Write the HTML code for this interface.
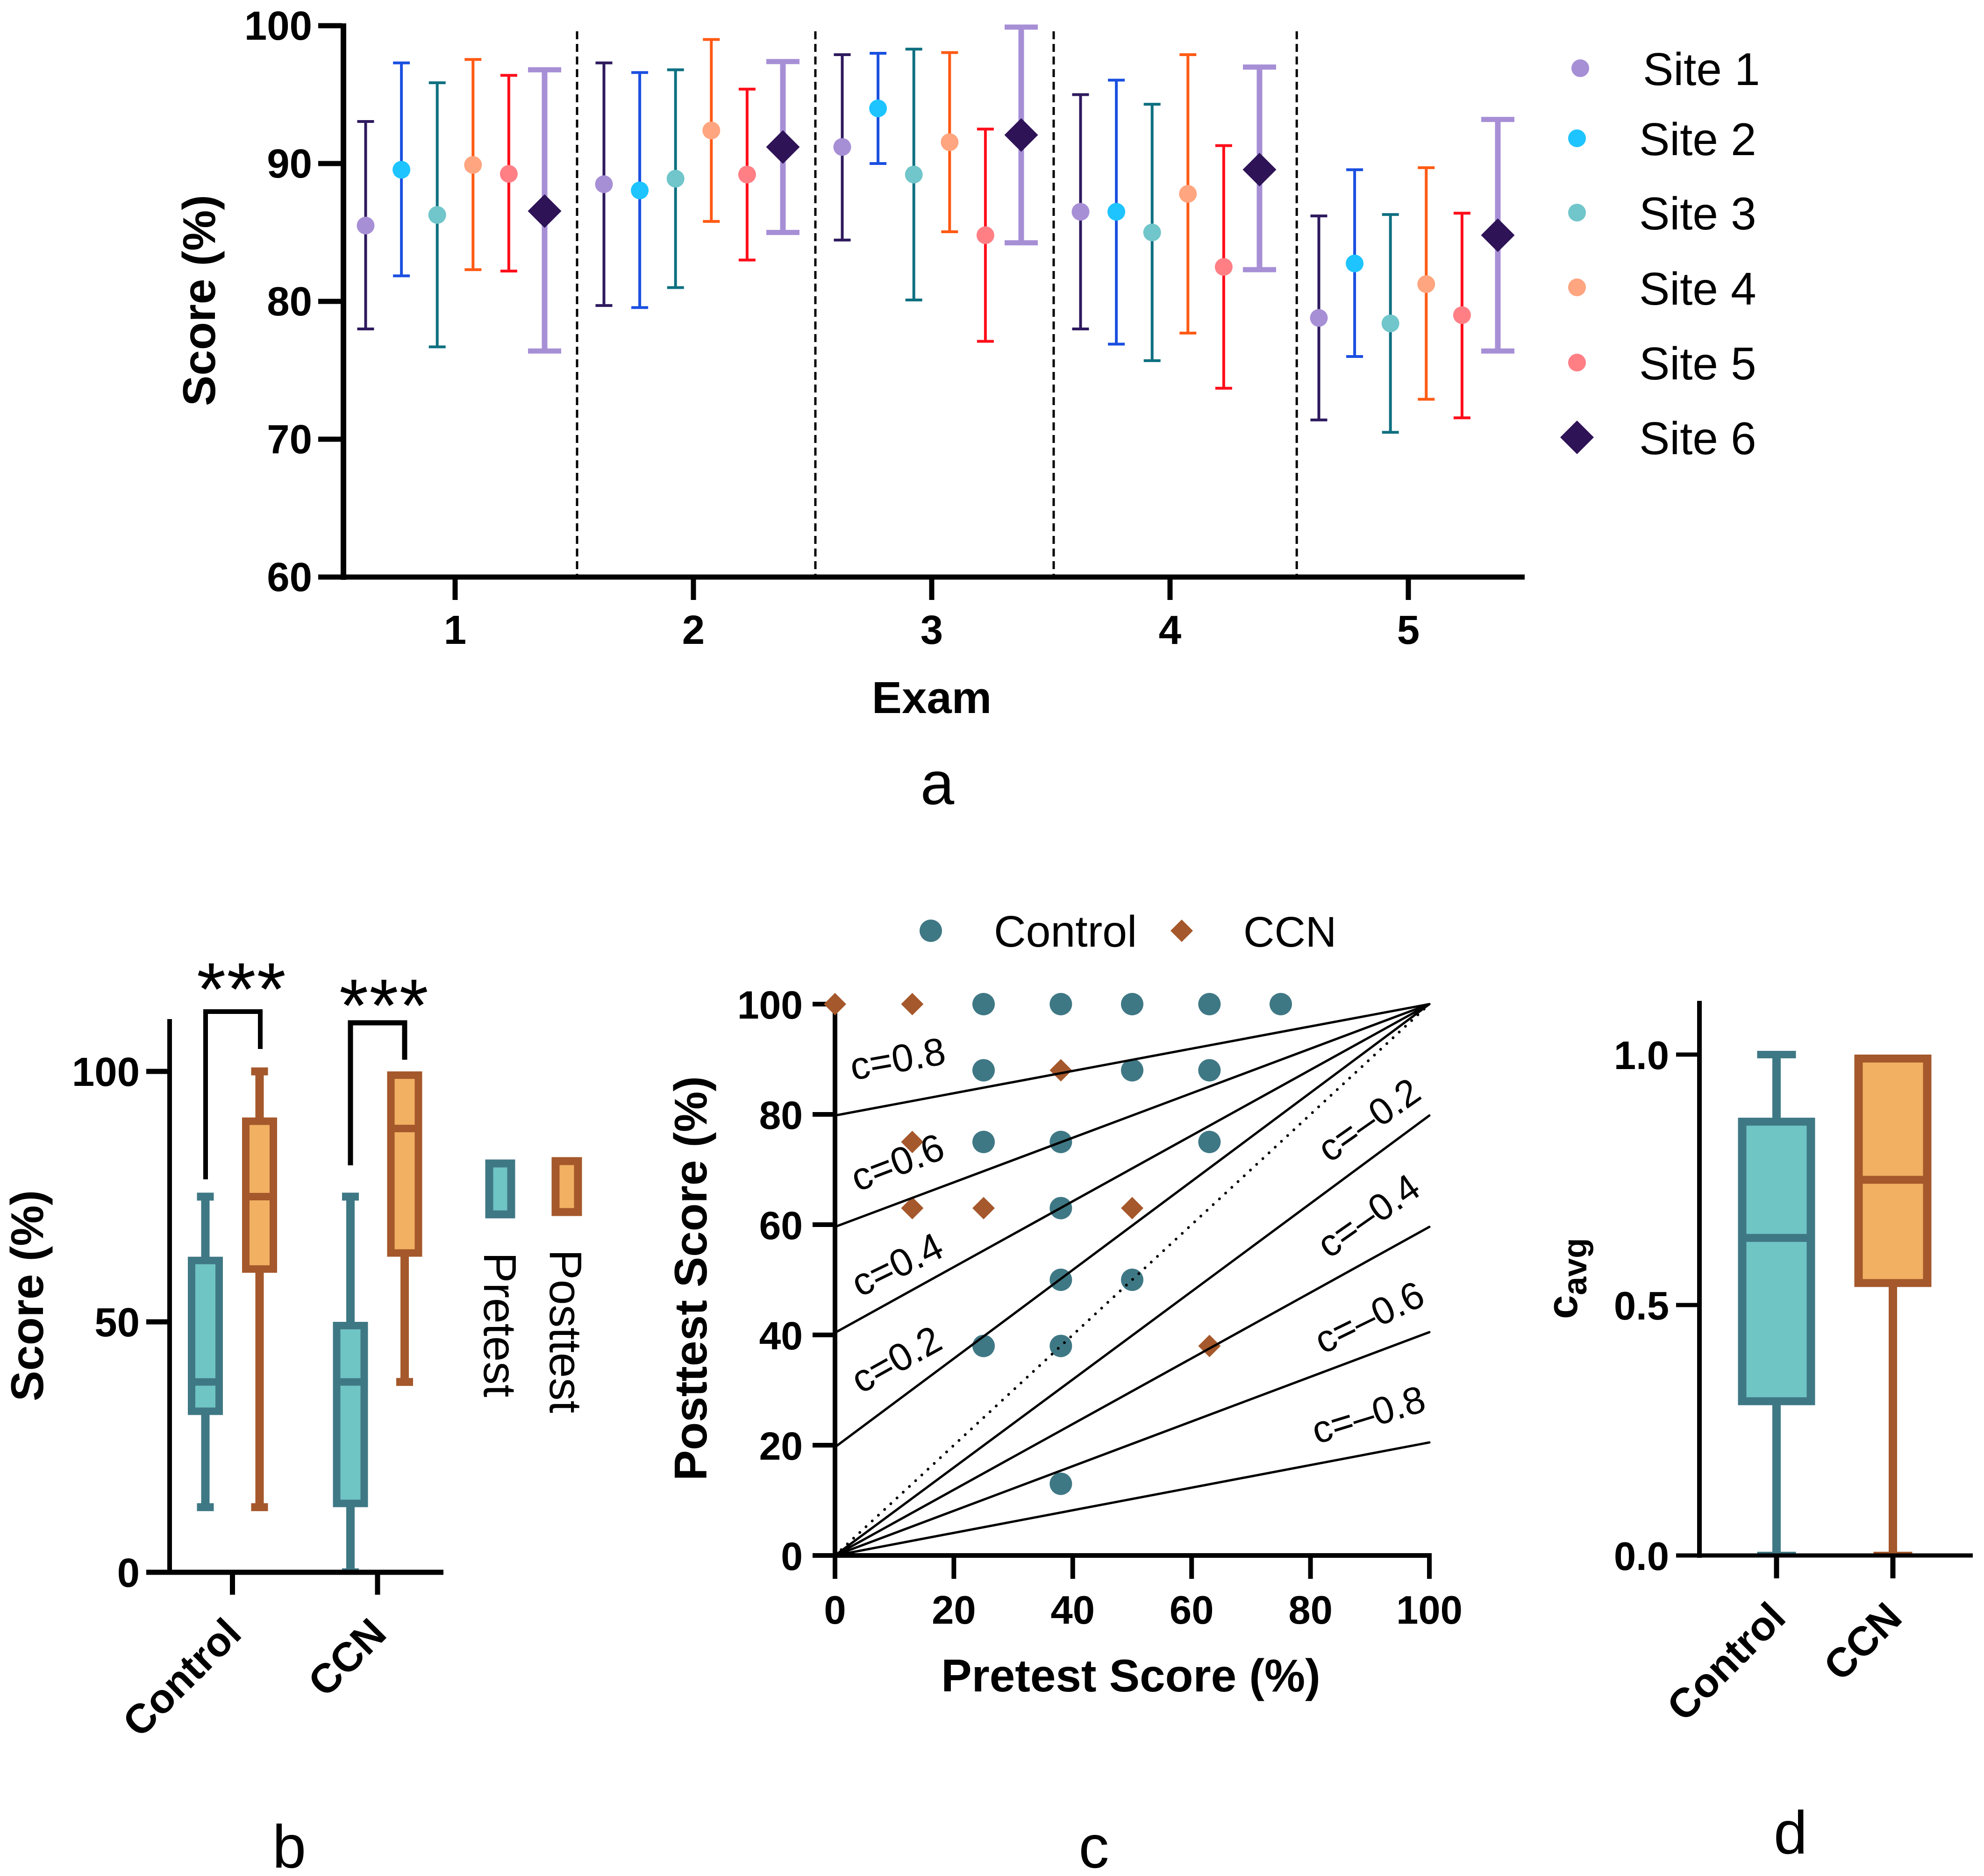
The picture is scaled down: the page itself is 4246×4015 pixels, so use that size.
<!DOCTYPE html>
<html lang="en">
<head>
<meta charset="utf-8">
<title>Exam scores by site and pretest/posttest comparison</title>
<style>
html,body{margin:0;padding:0;background:#fff;}
svg{display:block;font-family:"Liberation Sans",sans-serif;}
.b{font-weight:700;}
</style>
</head>
<body>
<svg id="fig" xmlns="http://www.w3.org/2000/svg" width="4246" height="4015" viewBox="0 0 4246 4015">
<rect width="4246" height="4015" fill="#fff"/>

<g id="panelA">
  <g id="aMarks"></g>
  <line x1="735" y1="50" x2="735" y2="1241" stroke="#000" stroke-width="12"/>
  <line x1="681" y1="1235" x2="3263" y2="1235" stroke="#000" stroke-width="11"/>
  <g id="aTicks"></g>
  <text class="b" font-size="98" text-anchor="middle" transform="translate(460 643) rotate(-90)">Score (%)</text>
  <text class="b" font-size="96" text-anchor="middle" x="1994" y="1526">Exam</text>
  <g font-size="98">
    <g><circle cx="3382" cy="146" r="19" fill="#a78fd6"/><text x="3516" y="182">Site 1</text></g>
    <g><circle cx="3375" cy="296" r="19" fill="#1ec4ff"/><text x="3508" y="332">Site 2</text></g>
    <g><circle cx="3375" cy="455" r="19" fill="#70c6ca"/><text x="3508" y="491">Site 3</text></g>
    <g><circle cx="3375" cy="615" r="19" fill="#ffa57f"/><text x="3508" y="652">Site 4</text></g>
    <g><circle cx="3375" cy="776" r="19" fill="#ff7f85"/><text x="3508" y="812">Site 5</text></g>
    <g><polygon points="3375,900 3411,936 3375,972 3339,936" fill="#2e1357"/><text x="3508" y="972">Site 6</text></g>
  </g>
  <text font-size="130" text-anchor="middle" x="2006" y="1721">a</text>
</g>

<g id="panelB">
  <g id="bMarks"></g>
  <line x1="363" y1="2181" x2="363" y2="3370" stroke="#000" stroke-width="10"/>
  <line x1="313" y1="3365" x2="949" y2="3365" stroke="#000" stroke-width="11"/>
  <g id="bTicks"></g>
  <text class="b" font-size="98" text-anchor="middle" transform="translate(92 2773) rotate(-90)">Score (%)</text>
  <path d="M440 2524V2165H557V2245" fill="none" stroke="#000" stroke-width="10"/>
  <path d="M750 2494V2189H866V2268" fill="none" stroke="#000" stroke-width="11"/>
  <text font-size="160" letter-spacing="2" x="421" y="2172">***</text>
  <text font-size="160" letter-spacing="2" x="726" y="2207">***</text>
  <g>
    <g>
      <rect x="1047" y="2490" width="47" height="109" fill="#6fc4c4" stroke="#3f7885" stroke-width="17"/>
      <text font-size="98" transform="translate(1036 2680) rotate(90)">Pretest</text>
    </g>
    <g>
      <rect x="1189" y="2485" width="48" height="109" fill="#f1b062" stroke="#a5582b" stroke-width="17"/>
      <text font-size="97" transform="translate(1177 2674) rotate(90)">Posttest</text>
    </g>
  </g>
  <text font-size="130" text-anchor="middle" x="619" y="3997">b</text>
</g>

<g id="panelC">
  <line x1="1787" y1="2144" x2="1787" y2="3334" stroke="#000" stroke-width="10"/>
  <line x1="1739" y1="3329" x2="3064" y2="3329" stroke="#000" stroke-width="10"/>
  <g id="cTicks"></g>
  <g id="cMarks"></g>
  <text class="b" font-size="98" text-anchor="middle" transform="translate(1512 2736) rotate(-90)">Posttest Score (%)</text>
  <text class="b" font-size="98" text-anchor="middle" x="2420" y="3620">Pretest Score (%)</text>
  <g font-size="83">
    <text transform="translate(1825 2312) rotate(-10)">c=0.8</text>
    <text transform="translate(1835 2551) rotate(-21)">c=0.6</text>
    <text transform="translate(1840 2777) rotate(-26)">c=0.4</text>
    <text transform="translate(1842 2984) rotate(-29)">c=0.2</text>
    <text font-size="81" transform="translate(2845 2490) rotate(-35)">c=–0.2</text>
    <text font-size="81" transform="translate(2844 2695) rotate(-35)">c=–0.4</text>
    <text font-size="82" transform="translate(2831 2899) rotate(-26)">c=–0.6</text>
    <text font-size="82" transform="translate(2818 3091) rotate(-17)">c=–0.8</text>
  </g>
  <g>
    <g><circle cx="1992" cy="1992" r="24" fill="#3f7885"/><text font-size="95" x="2127" y="2026">Control</text></g>
    <g><polygon points="2529,1968 2553,1992 2529,2016 2505,1992" fill="#a5582b"/><text font-size="92" x="2661" y="2026">CCN</text></g>
  </g>
  <text font-size="130" text-anchor="middle" x="2341" y="3997">c</text>
</g>

<g id="panelD">
  <g id="dMarks"></g>
  <line x1="3637" y1="2142" x2="3637" y2="3334" stroke="#000" stroke-width="10"/>
  <line x1="3587" y1="3329" x2="4222" y2="3329" stroke="#000" stroke-width="9"/>
  <g id="dTicks"></g>
  <text class="b" transform="translate(3375 2823) rotate(-90)" font-size="92">c<tspan font-size="71" dy="20">avg</tspan></text>
  <text font-size="130" text-anchor="middle" x="3832" y="3967">d</text>
</g>
</svg>

<script>
// ---------- Panel a data ----------
const exams = [1, 2, 3, 4, 5];
const aYTicks = [60, 70, 80, 90, 100];
const siteNames = ['site-1', 'site-2', 'site-3', 'site-4', 'site-5', 'site-6'];
const site1Mean = [85.5, 88.5, 91.2, 86.5, 78.8];
const site1Upper = [93.05, 97.3, 97.9, 95.0, 86.2];
const site1Lower = [78.0, 79.7, 84.45, 78.0, 71.4];
const site2Mean = [89.55, 88.05, 94.0, 86.5, 82.75];
const site2Upper = [97.3, 96.6, 98.0, 96.05, 89.55];
const site2Lower = [81.85, 79.55, 90.0, 76.9, 76.0];
const site3Mean = [86.27, 88.9, 89.2, 85.0, 78.4];
const site3Upper = [95.86, 96.8, 98.3, 94.3, 86.3];
const site3Lower = [76.7, 81.0, 80.1, 75.7, 70.5];
const site4Mean = [89.9, 92.4, 91.55, 87.8, 81.25];
const site4Upper = [97.55, 99.0, 98.05, 97.9, 89.7];
const site4Lower = [82.3, 85.8, 85.05, 77.7, 72.9];
const site5Mean = [89.25, 89.2, 84.8, 82.5, 79.0];
const site5Upper = [96.4, 95.4, 92.5, 91.3, 86.4];
const site5Lower = [82.2, 83.0, 77.1, 73.7, 71.55];
const site6Mean = [86.55, 91.2, 92.07, 89.56, 84.8];
const site6Upper = [96.8, 97.4, 99.9, 97.0, 93.2];
const site6Lower = [76.4, 85.0, 84.25, 82.3, 76.4];
const separators = [1.5, 2.5, 3.5, 4.52];

// ---------- Panel b data ----------
const bCategories = ['Control', 'CCN'];
const bYTicks = [0, 50, 100];
const bPreMin = [13, 0];
const bPreQ1 = [31.4, 13];
const bPreMedian = [38, 38];
const bPreQ3 = [63, 50];
const bPreMax = [75, 75];
const bPostMin = [13, 38];
const bPostQ1 = [59.8, 63];
const bPostMedian = [75, 88.6];
const bPostQ3 = [90.8, 100];
const bPostMax = [100, 100];

// ---------- Panel c data ----------
const cTicks = [0, 20, 40, 60, 80, 100];
const cLineStart = [79.8, 59.6, 40.4, 19.65, 0, 0, 0, 0];
const cLineEnd = [100, 100, 100, 100, 79.8, 59.6, 40.5, 20.5];
const controlPre = [25, 38, 50, 63, 75, 25, 50, 63, 25, 38, 63, 38, 38, 50, 25, 38, 38];
const controlPost = [100, 100, 100, 100, 100, 88, 88, 88, 75, 75, 75, 63, 50, 50, 38, 38, 13];
const ccnPre = [0, 13, 38, 13, 13, 25, 50, 63];
const ccnPost = [100, 100, 88, 75, 63, 63, 63, 38];

// ---------- Panel d data ----------
const dCategories = ['Control', 'CCN'];
const dYTicks = ['0.0', '0.5', '1.0'];
const dMin = [0, 0];
const dQ1 = [0.30, 0.536];
const dMedian = [0.634, 0.75];
const dQ3 = [0.874, 1.0];
const dMax = [1.0, 1.0];

// ---------- Styles ----------
const siteLine = ['#2e1a5e', '#1a4fe0', '#0e7080', '#ff5a14', '#ff0d1a', '#a78fd6'];
const siteFill = ['#a78fd6', '#1ec4ff', '#70c6ca', '#ffa57f', '#ff7f85', '#2e1357'];
const TEAL = '#3f7885', TEAL_FILL = '#6fc4c4', BROWN = '#a5582b', ORANGE_FILL = '#f1b062';

// ---------- Scales ----------
const xA = e => 974 + (e - 1) * 510;
const yA = v => 1235 - (v - 60) * 29.5;
const xB = i => 497.5 + i * 310.5;
const yB = v => 3365 - v * 10.72;
const xC = v => 1787 + v * 12.72;
const yC = v => 3329 - v * 11.8;
const xD = i => 3802 + i * 249;
const yD = v => 3329 - v * 1072;

const NS = 'http://www.w3.org/2000/svg';
function mk(tag, attrs, parent, text) {
  const n = document.createElementNS(NS, tag);
  for (const k in attrs) n.setAttribute(k, attrs[k]);
  if (text !== undefined) n.textContent = text;
  parent.appendChild(n);
  return n;
}
const $ = id => document.getElementById(id);

// ---------- Panel a ----------
const aMarks = $('aMarks'), aTicksG = $('aTicks');
separators.forEach(s => {
  const x = xA(s) + 6;
  const sep = mk('line', {x1: x, y1: 67, x2: x, y2: 1232, stroke: '#000', 'stroke-width': 5, 'stroke-dasharray': '17 10'}, aMarks);
  
  
});
const siteMeans = [site1Mean, site2Mean, site3Mean, site4Mean, site5Mean, site6Mean];
const siteUppers = [site1Upper, site2Upper, site3Upper, site4Upper, site5Upper, site6Upper];
const siteLowers = [site1Lower, site2Lower, site3Lower, site4Lower, site5Lower, site6Lower];
siteNames.forEach((name, s) => {
  const big = s === 5;
  const w = big ? 12 : 6, cap = big ? 71 : 36, capH = big ? 11 : 6;
  exams.forEach((exam, k) => {
    const x = xA(exam) + (s - 2.5) * 76.6;
    const top = yA(siteUppers[s][k]), bot = yA(siteLowers[s][k]), mid = yA(siteMeans[s][k]);
    const g = mk('g', {}, aMarks);
    
    
    mk('line', {x1: x, y1: top, x2: x, y2: bot, stroke: siteLine[s], 'stroke-width': w}, g);
    mk('line', {x1: x - cap / 2, y1: top, x2: x + cap / 2, y2: top, stroke: siteLine[s], 'stroke-width': capH}, g);
    mk('line', {x1: x - cap / 2, y1: bot, x2: x + cap / 2, y2: bot, stroke: siteLine[s], 'stroke-width': capH}, g);
    if (big) mk('polygon', {points: [x, mid - 36, x + 36, mid, x, mid + 36, x - 36, mid].join(' '), fill: siteFill[s]}, g);
    else mk('circle', {cx: x, cy: mid, r: 19, fill: siteFill[s]}, g);
  });
});
aYTicks.forEach(v => {
  const y = yA(v);
  const t = mk('line', {x1: 681, y1: y, x2: 732, y2: y, stroke: '#000', 'stroke-width': 11}, aTicksG);
  
  
  const l = mk('text', {x: 668, y: y + 30, 'font-size': 87, 'font-weight': 700, 'text-anchor': 'end'}, aTicksG, String(v));
  
  
});
exams.forEach(e => {
  const x = xA(e);
  const t = mk('line', {x1: x, y1: 1235, x2: x, y2: 1284, stroke: '#000', 'stroke-width': 11}, aTicksG);
  
  
  const l = mk('text', {x: x, y: 1378, 'font-size': 87, 'font-weight': 700, 'text-anchor': 'middle'}, aTicksG, String(e));
  
  
});

// ---------- Box helper ----------
function box(parent, o) {
  const g = mk('g', {}, parent);
  const half = o.width / 2;
  const top = o.y(o.q3), bot = o.y(o.q1), med = o.y(o.median), hi = o.y(o.max), lo = o.y(o.min);
  mk('rect', {x: o.cx - o.whisker / 2, y: hi, width: o.whisker, height: lo - hi, fill: o.stroke}, g);
  if (o.max > o.q3) mk('rect', {x: o.cx - o.cap / 2, y: hi - o.capH / 2, width: o.cap, height: o.capH, fill: o.stroke}, g);
  const capBottom = Math.min(lo + o.capH / 2, o.y(0));
  mk('rect', {x: o.cx - o.cap / 2, y: lo - o.capH / 2, width: o.cap, height: capBottom - (lo - o.capH / 2), fill: o.stroke}, g);
  mk('rect', {x: o.cx - half, y: top, width: o.width, height: bot - top, fill: o.stroke}, g);
  mk('rect', {x: o.cx - half + o.sx, y: top + o.sy, width: o.width - 2 * o.sx, height: bot - top - 2 * o.sy, fill: o.fill}, g);
  mk('rect', {x: o.cx - half, y: med - o.sy / 2, width: o.width, height: o.sy, fill: o.stroke}, g);
  return g;
}
function catTick(parent, x, tickTop, tickBot, label, ax, ay) {
  const t = mk('line', {x1: x, y1: tickTop, x2: x, y2: tickBot, stroke: '#000', 'stroke-width': 11}, parent);
  
  
  const l = mk('text', {'font-size': 88, 'font-weight': 700, 'text-anchor': 'end', transform: 'translate(' + ax + ' ' + ay + ') rotate(-45)'}, parent, label);
  
  
}

// ---------- Panel b ----------
const bMarks = $('bMarks'), bTicksG = $('bTicks');
bCategories.forEach((cat, i) => {
  const pre = box(bMarks, {cx: xB(i) - 58, width: 75, y: yB, q1: bPreQ1[i], median: bPreMedian[i], q3: bPreQ3[i], min: bPreMin[i], max: bPreMax[i], stroke: TEAL, fill: TEAL_FILL, sx: 16, sy: 16, whisker: 18, cap: 36, capH: 17});
  
  
  const post = box(bMarks, {cx: xB(i) + 58, width: 75, y: yB, q1: bPostQ1[i], median: bPostMedian[i], q3: bPostQ3[i], min: bPostMin[i], max: bPostMax[i], stroke: BROWN, fill: ORANGE_FILL, sx: 16, sy: 16, whisker: 18, cap: 36, capH: 17});
  
  
  catTick(bTicksG, xB(i), 3365, 3413, cat, xB(i) + 23.5, 3501);
});
bYTicks.forEach(v => {
  const y = yB(v);
  const t = mk('line', {x1: 313, y1: y, x2: 360, y2: y, stroke: '#000', 'stroke-width': 11}, bTicksG);
  
  
  const l = mk('text', {x: 299, y: y + 31, 'font-size': 87, 'font-weight': 700, 'text-anchor': 'end'}, bTicksG, String(v));
  
  
});

// ---------- Panel c ----------
const cMarks = $('cMarks'), cTicksG = $('cTicks');
controlPre.forEach((p, i) => {
  const pt = mk('circle', {cx: xC(p), cy: yC(controlPost[i]), r: 24, fill: TEAL}, cMarks);
  
  
});
ccnPre.forEach((p, i) => {
  const x = xC(p), y = yC(ccnPost[i]);
  const pt = mk('polygon', {points: [x, y - 24, x + 24, y, x, y + 24, x - 24, y].join(' '), fill: BROWN}, cMarks);
  
  
});
const parity = mk('line', {x1: xC(0), y1: yC(0), x2: xC(100), y2: yC(100), stroke: '#000', 'stroke-width': 6, 'stroke-dasharray': '0.1 18', 'stroke-linecap': 'round'}, cMarks);


cLineStart.forEach((y0, k) => {
  const ln = mk('line', {x1: xC(0), y1: yC(y0), x2: xC(100), y2: yC(cLineEnd[k]), stroke: '#000', 'stroke-width': 5, 'stroke-linecap': 'round'}, cMarks);
  
  
});
cTicks.forEach(v => {
  const y = yC(v), x = xC(v);
  const ty = mk('line', {x1: 1739, y1: y, x2: 1785, y2: y, stroke: '#000', 'stroke-width': 10}, cTicksG);
  
  
  const ly = mk('text', {x: 1718, y: y + 31, 'font-size': 84, 'font-weight': 700, 'text-anchor': 'end'}, cTicksG, String(v));
  
  
  const tx = mk('line', {x1: x, y1: 3329, x2: x, y2: 3379, stroke: '#000', 'stroke-width': 10}, cTicksG);
  
  
  const lx = mk('text', {x: x, y: 3475, 'font-size': 85, 'font-weight': 700, 'text-anchor': 'middle'}, cTicksG, String(v));
  
  
});

// ---------- Panel d ----------
const dMarks = $('dMarks'), dTicksG = $('dTicks');
dCategories.forEach((cat, i) => {
  const teal = i === 0;
  const b = box(dMarks, {cx: xD(i), width: 165, y: yD, q1: dQ1[i], median: dMedian[i], q3: dQ3[i], min: dMin[i], max: dMax[i], stroke: teal ? TEAL : BROWN, fill: teal ? TEAL_FILL : ORANGE_FILL, sx: 18, sy: 17, whisker: 18, cap: 83, capH: 16});
  
  
  catTick(dTicksG, xD(i), 3329, 3378, cat, xD(i) + 24, 3467);
});
dYTicks.forEach(lbl => {
  const y = yD(parseFloat(lbl));
  const t = mk('line', {x1: 3587, y1: y, x2: 3634, y2: y, stroke: '#000', 'stroke-width': 9}, dTicksG);
  
  
  const l = mk('text', {x: 3572, y: y + 31, 'font-size': 85, 'font-weight': 700, 'text-anchor': 'end'}, dTicksG, lbl);
  
  
});
</script>
</body>
</html>
